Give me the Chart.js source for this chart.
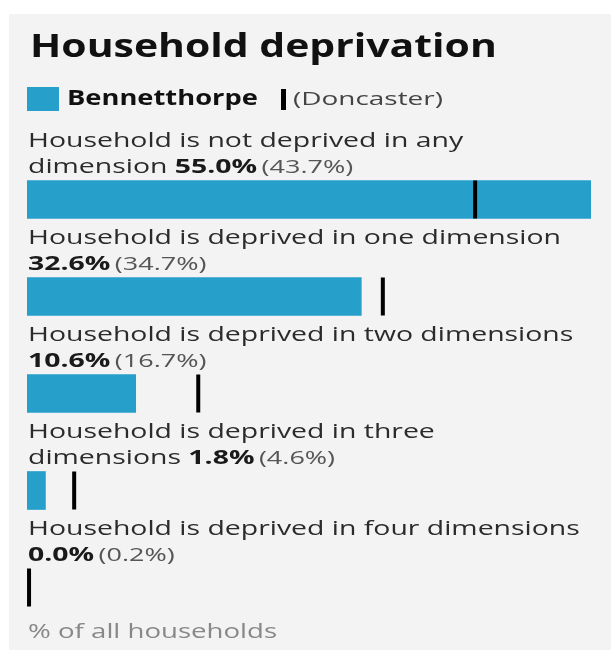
<!DOCTYPE html>
<html>
<head>
<meta charset="utf-8">
<title>Household deprivation</title>
<script src="https://cdn.jsdelivr.net/npm/chart.js@4/dist/chart.umd.min.js"></script>
<style>
    html, body { margin: 0; padding: 0; background: #fff; }
    canvas { display: block; }
</style>
</head>
<body>
<canvas id="chart" width="611" height="654"></canvas>
<script>
// data
const chartTitle = 'Household deprivation';
const areaName = 'Bennetthorpe';
const districtName = 'Doncaster';
const axisNote = '% of all households';

// each category is split into the lines it wraps to; the values go on the last line
const categories = [
    ['Household is not deprived in any', 'dimension'],
    ['Household is deprived in one dimension', ''],
    ['Household is deprived in two dimensions', ''],
    ['Household is deprived in three', 'dimensions'],
    ['Household is deprived in four dimensions', ''],
];
const areaValues = [55.0, 32.6, 10.6, 1.8, 0.0];
const districtValues = [43.7, 34.7, 16.7, 4.6, 0.2];

const BLUE = '#279fcb';
const PANEL = '#f3f3f3';
const FONT = '"Open Sans", "Noto Sans", sans-serif';
// the reference text is drawn wide, so text is stretched sideways
const STRETCH = 1.42;

/**
 * Draw a row of text runs (each with its own font/colour) starting at x, y.
 */
function drawRuns(ctx, x, y, runs, stretch) {
    ctx.save();
    ctx.translate(x, y);
    ctx.scale(stretch, 1);
    ctx.textBaseline = 'alphabetic';
    ctx.textAlign = 'left';
    let cx = 0;
    runs.forEach((r) => {
        ctx.font = r.font;
        ctx.fillStyle = r.color;
        ctx.fillText(r.text, cx, 0);
        cx += ctx.measureText(r.text).width;
    });
    ctx.restore();
}

const fmt = (v) => v.toFixed(1) + '%';

// grey panel behind everything
const panelPlugin = {
    id: 'panel',
    beforeDraw(chart) {
        const ctx = chart.ctx;
        ctx.save();
        ctx.fillStyle = PANEL;
        ctx.fillRect(9, 14, chart.width - 9, chart.height - 18);
        ctx.restore();
    },
};

// title, legend, category labels and the footer note
const textPlugin = {
    id: 'texts',
    afterDraw(chart) {
        const ctx = chart.ctx;

        drawRuns(ctx, 30, 57, [
            { text: chartTitle, font: 'bold 33px ' + FONT, color: '#111' },
        ], 1.24);

        // legend
        ctx.save();
        ctx.fillStyle = BLUE;
        ctx.fillRect(27, 87, 32, 24);
        ctx.fillStyle = '#000';
        ctx.fillRect(281, 89, 5, 21);
        ctx.restore();
        drawRuns(ctx, 67, 105, [
            { text: areaName, font: 'bold 21px ' + FONT, color: '#111' },
        ], 1.3);
        drawRuns(ctx, 293, 105, [
            { text: '(' + districtName + ')', font: '19px ' + FONT, color: '#444' },
        ], 1.47);

        // labels above each bar (dataset 0 is the Bennetthorpe bars)
        const meta = chart.getDatasetMeta(0);
        meta.data.forEach((bar, i) => {
            const top = bar.y - bar.height / 2;
            const lines = categories[i];
            const last = lines[lines.length - 1];
            for (let l = 0; l < lines.length - 1; l++) {
                const y = top - 8 - (lines.length - 1 - l) * 26;
                drawRuns(ctx, 28, y, [
                    { text: lines[l], font: '20px ' + FONT, color: '#2b2b2b' },
                ], STRETCH);
            }
            drawRuns(ctx, 28, top - 8, [
                { text: last ? last + ' ' : '', font: '20px ' + FONT, color: '#2b2b2b' },
                { text: fmt(areaValues[i]), font: 'bold 20px ' + FONT, color: '#1a1a1a' },
                { text: ' ', font: '12px ' + FONT, color: '#333' },
                { text: '(' + fmt(districtValues[i]) + ')', font: '19px ' + FONT, color: '#555' },
            ], STRETCH);
        });

        drawRuns(ctx, 28, 638, [
            { text: axisNote, font: '20px ' + FONT, color: '#888' },
        ], 1.38);
    },
};

function init() {
    const canvas = document.getElementById('chart');
    new Chart(canvas.getContext('2d'), {
        type: 'bar',
        data: {
            labels: categories,
            datasets: [
                {
                    label: areaName,
                    type: 'bar',
                    data: areaValues,
                    backgroundColor: BLUE,
                    barThickness: 38,
                    order: 2,
                },
                {
                    label: districtName,
                    type: 'line',
                    indexAxis: 'y',
                    data: districtValues,
                    showLine: false,
                    pointStyle: 'line',
                    pointRotation: 90,
                    pointRadius: 19,
                    pointHoverRadius: 19,
                    pointBorderWidth: 4,
                    borderColor: '#000',
                    backgroundColor: '#000',
                    order: 1,
                },
            ],
        },
        options: {
            indexAxis: 'y',
            responsive: false,
            animation: false,
            layout: {
                // the marker points would otherwise push the plot area in
                autoPadding: false,
                padding: { left: 27, right: 20, top: 151, bottom: 18 },
            },
            scales: {
                x: { display: false, min: 0, max: 55 },
                y: { display: false },
            },
            plugins: {
                legend: { display: false },
                tooltip: { enabled: false },
            },
        },
        plugins: [panelPlugin, textPlugin],
    });
}

document.addEventListener('DOMContentLoaded', init);
</script>
</body>
</html>
